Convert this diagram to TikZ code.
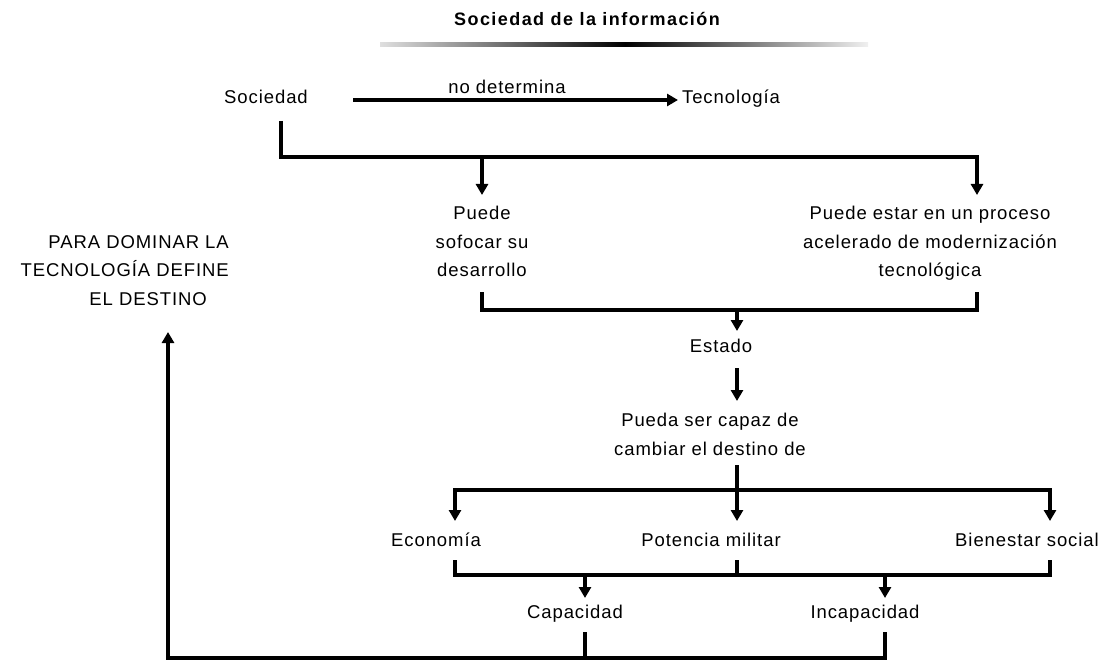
\documentclass[tikz,border=0pt]{standalone}
\usepackage{fontspec}
\setmainfont{Liberation Sans}
\newfontfamily\bodyfont[LetterSpace=5]{Liberation Sans}
\newfontfamily\headfont[LetterSpace=8]{Liberation Sans}
\usetikzlibrary{arrows.meta}
\tikzset{
  txt/.style={inner sep=0pt, font=\bodyfont\fontsize{18.5}{28.5}\selectfont, align=center},
  headtxt/.style={inner sep=0pt, font=\headfont\bfseries\fontsize{18}{20}\selectfont},
  ln/.style={line width=4pt},
  arr/.style={line width=4pt, -{Triangle[width=12pt,length=11pt]}},
}
\begin{document}
\begin{tikzpicture}[x=1pt,y=-1pt]
\useasboundingbox (0,0) rectangle (1105,660);
% title and gradient rule
\node[headtxt, anchor=base] (tit) at (587,26) {Sociedad de la información};
\shade[left color=gray!25, right color=black] (380,43) rectangle (625,47);
\shade[left color=black, right color=gray!12] (625,43) rectangle (868,47);
% nodes
\node[txt, anchor=base] (soc) at (266,104) {Sociedad};
\node[txt, anchor=base] (tec) at (731,104) {Tecnología};
\node[txt, anchor=base] (nod) at (507,94) {no determina};
\node[txt, anchor=north] (sof) at (482,206) {Puede\\sofocar su\\desarrollo};
\node[txt, anchor=north] (proc) at (930,206) {Puede estar en un proceso\\acelerado de modernización\\tecnológica};
\node[txt, anchor=north east, align=right] (para) at (229,235) {PARA DOMINAR LA\\TECNOLOGÍA DEFINE\\EL DESTINO\hspace*{22pt}};
\node[txt, anchor=base] (est) at (721,352) {Estado};
\node[txt, anchor=north] (pueda) at (710,413) {Pueda ser capaz de\\cambiar el destino de};
\node[txt, anchor=base] (eco) at (436,546) {Economía};
\node[txt, anchor=base] (pot) at (711,546) {Potencia militar};
\node[txt, anchor=base] (bie) at (1027,546) {Bienestar social};
\node[txt, anchor=base] (cap) at (575,618) {Capacidad};
\node[txt, anchor=base] (inc) at (865,618) {Incapacidad};
% coordinates
\coordinate (a0) at (353,100);
\coordinate (a1) at (678,100);
\coordinate (s0) at (281,121);
\coordinate (s1) at (977,157);
\coordinate (s2) at (977,195);
\coordinate (s3) at (482,157);
\coordinate (s4) at (482,195);
\coordinate (p0) at (482,292);
\coordinate (p1) at (977,292);
\coordinate (p2) at (737,310);
\coordinate (p3) at (737,331);
\coordinate (e0) at (737,368);
\coordinate (e1) at (737,401);
\coordinate (q0) at (737,465);
\coordinate (q1) at (737,490);
\coordinate (q2) at (737,521);
\coordinate (q3) at (455,521);
\coordinate (q4) at (1050,521);
\coordinate (b0) at (455,560);
\coordinate (b1) at (737,560);
\coordinate (b2) at (1050,560);
\coordinate (b3) at (1050,575);
\coordinate (b4) at (737,575);
\coordinate (c0) at (585,575);
\coordinate (c1) at (585,598);
\coordinate (d0) at (885,575);
\coordinate (d1) at (885,598);
\coordinate (f0) at (585,632);
\coordinate (f1) at (585,658);
\coordinate (f2) at (885,632);
\coordinate (f3) at (168,332);
% connectors
\draw[arr] (a0) -- (a1);
\draw[arr] (s0) |- (s1) -- (s2);
\draw[arr] (s3) -- (s4);
\draw[ln] (p0) |- (p2) -| (p1);
\draw[arr] (p2) -- (p3);
\draw[arr] (e0) -- (e1);
\draw[arr] (q0) -- (q2);
\draw[arr] (q1) -| (q3);
\draw[arr] (q1) -| (q4);
\draw[ln] (b0) |- (b3) -- (b2);
\draw[ln] (b1) -- (b4);
\draw[arr] (c0) -- (c1);
\draw[arr] (d0) -- (d1);
\draw[arr] (f0) -- (f1) -| (f3);
\draw[ln] (f2) |- (f1);
\end{tikzpicture}
\end{document}
